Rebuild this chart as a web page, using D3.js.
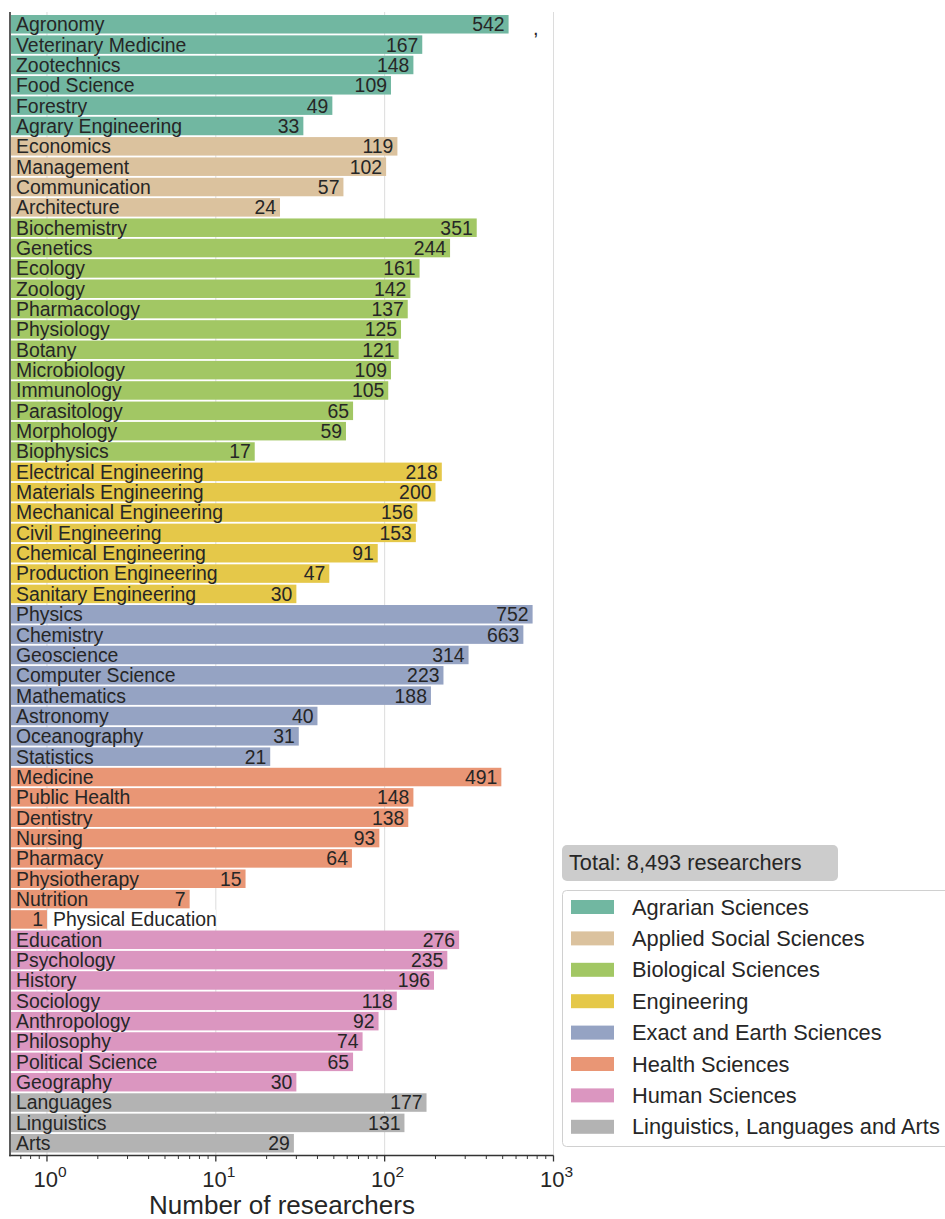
<!DOCTYPE html>
<html><head><meta charset="utf-8">
<script src="https://cdn.jsdelivr.net/npm/d3@7"></script>
<style>body{margin:0;background:#fff}svg{display:block;font-family:"Liberation Sans",Arial,sans-serif}</style>
</head><body>
<script>
const groups = ["Agrarian Sciences","Applied Social Sciences","Biological Sciences","Engineering","Exact and Earth Sciences","Health Sciences","Human Sciences","Linguistics, Languages and Arts"];
const groupColors = ["#71b7a1","#dbc29e","#a2c764","#e5c849","#95a3c3","#e99675","#db96c0","#b3b3b3"];
const agrarian = [["Agronomy",542],["Veterinary Medicine",167],["Zootechnics",148],["Food Science",109],["Forestry",49],["Agrary Engineering",33]];
const appliedSocial = [["Economics",119],["Management",102],["Communication",57],["Architecture",24]];
const biological = [["Biochemistry",351],["Genetics",244],["Ecology",161],["Zoology",142],["Pharmacology",137],["Physiology",125],["Botany",121],["Microbiology",109],["Immunology",105],["Parasitology",65],["Morphology",59],["Biophysics",17]];
const engineering = [["Electrical Engineering",218],["Materials Engineering",200],["Mechanical Engineering",156],["Civil Engineering",153],["Chemical Engineering",91],["Production Engineering",47],["Sanitary Engineering",30]];
const exactEarth = [["Physics",752],["Chemistry",663],["Geoscience",314],["Computer Science",223],["Mathematics",188],["Astronomy",40],["Oceanography",31],["Statistics",21]];
const health = [["Medicine",491],["Public Health",148],["Dentistry",138],["Nursing",93],["Pharmacy",64],["Physiotherapy",15],["Nutrition",7],["Physical Education",1]];
const human = [["Education",276],["Psychology",235],["History",196],["Sociology",118],["Anthropology",92],["Philosophy",74],["Political Science",65],["Geography",30]];
const linguistics = [["Languages",177],["Linguistics",131],["Arts",29]];
const tickValues = [1,10,100,1000];
const tickExponents = ["0","1","2","3"];
const xLabel = "Number of researchers";

const seriesList = [agrarian, appliedSocial, biological, engineering, exactEarth, health, human, linguistics];
const data = [];
seriesList.forEach((s,gi)=>s.forEach(([name,value])=>data.push({name,value,group:groups[gi]})));

const W=945,H=1219;
const svg=d3.select("body").append("svg").attr("width",W).attr("height",H);
const left=10, plotTop=12, plotBottom=1155.5;
const x=d3.scaleLog().domain([0.604,1000]).range([left,553.5]);
const y=d3.scaleBand().domain(data.map(d=>d.name)).range([14.2,1153.3]).paddingInner(0.09).paddingOuter(0.04);
const color=d3.scaleOrdinal().domain(groups).range(groupColors);
const txt="#262626";

// gridlines
svg.append("g").selectAll("line").data(tickValues).join("line")
  .attr("x1",d=>x(d)).attr("x2",d=>x(d)).attr("y1",plotTop).attr("y2",plotBottom)
  .attr("stroke","#dcdcdc").attr("stroke-width",1);

// bars
svg.append("g").selectAll("rect").data(data).join("rect")
  .attr("x",left+1).attr("y",d=>y(d.name)).attr("width",d=>x(d.value)-left-1).attr("height",y.bandwidth())
  .attr("fill",d=>color(d.group));

// labels
const fs=19.4;
const lab=svg.append("g").attr("font-size",fs).attr("fill",txt);
data.forEach(d=>{
  const cy=y(d.name)+y.bandwidth()/2+6.9;
  const xe=x(d.value);
  if(d.value<3){
    lab.append("rect").attr("x",xe+1).attr("y",y(d.name)-0.5).attr("width",x(10)-xe-1).attr("height",y.bandwidth()+1).attr("fill","#fff");
    lab.append("text").attr("x",xe+6).attr("y",cy).text(d.name);
  } else {
    lab.append("text").attr("x",16).attr("y",cy).text(d.name);
  }
  lab.append("text").attr("x",xe-4).attr("y",cy).attr("text-anchor","end").text(d.value);
});

// stray comma
svg.append("text").attr("x",533).attr("y",35).attr("font-size",20).attr("fill",txt).text(",");

// left spine
svg.append("line").attr("x1",left).attr("x2",left).attr("y1",plotTop).attr("y2",plotBottom+0.8).attr("stroke","#333").attr("stroke-width",1.6);

// bottom axis
const ax=svg.append("g");
ax.append("line").attr("x1",left-0.8).attr("x2",x(1000)).attr("y1",plotBottom).attr("y2",plotBottom).attr("stroke","#333").attr("stroke-width",1.6);
const minor=[];
[0.1,1,10,100].forEach(b=>{for(let k=2;k<=9;k++){const v=b*k;if(v>=0.604&&v<1000)minor.push(v);}});
ax.selectAll("line.minor").data(minor).join("line").attr("class","minor")
  .attr("x1",d=>x(d)).attr("x2",d=>x(d)).attr("y1",plotBottom).attr("y2",plotBottom+3.5).attr("stroke","#333").attr("stroke-width",1);
ax.selectAll("line.major").data(tickValues).join("line").attr("class","major")
  .attr("x1",d=>x(d)).attr("x2",d=>x(d)).attr("y1",plotBottom).attr("y2",plotBottom+6).attr("stroke","#333").attr("stroke-width",1.3);
tickValues.forEach((v,i)=>{
  const t=ax.append("text").attr("x",x(v)+3).attr("y",1187).attr("text-anchor","middle").attr("font-size",22).attr("fill",txt);
  t.append("tspan").text("10");
  t.append("tspan").attr("dy",-10).attr("font-size",15.5).text(tickExponents[i]);
});
svg.append("text").attr("x",282).attr("y",1214).attr("text-anchor","middle").attr("font-size",26).attr("fill",txt).text(xLabel);

// total box
const total=d3.sum(data,d=>d.value);
svg.append("rect").attr("x",562).attr("y",845).attr("width",276).attr("height",36).attr("rx",5).attr("fill","#cccccc");
svg.append("text").attr("x",569).attr("y",870).attr("font-size",21.7).attr("fill",txt).text(`Total: ${d3.format(",")(total)} researchers`);

// legend
svg.append("rect").attr("x",562.5).attr("y",890.5).attr("width",400).attr("height",256).attr("rx",4).attr("fill","#fff").attr("stroke","#d0d0d0");
const lg=svg.append("g");
groups.forEach((g,i)=>{
  const cy=907+i*31.4;
  lg.append("rect").attr("x",571).attr("y",cy-7).attr("width",43).attr("height",14).attr("fill",color(g));
  lg.append("text").attr("x",632).attr("y",cy+7.5).attr("font-size",21.8).attr("fill",txt).text(g);
});
</script>
</body></html>
